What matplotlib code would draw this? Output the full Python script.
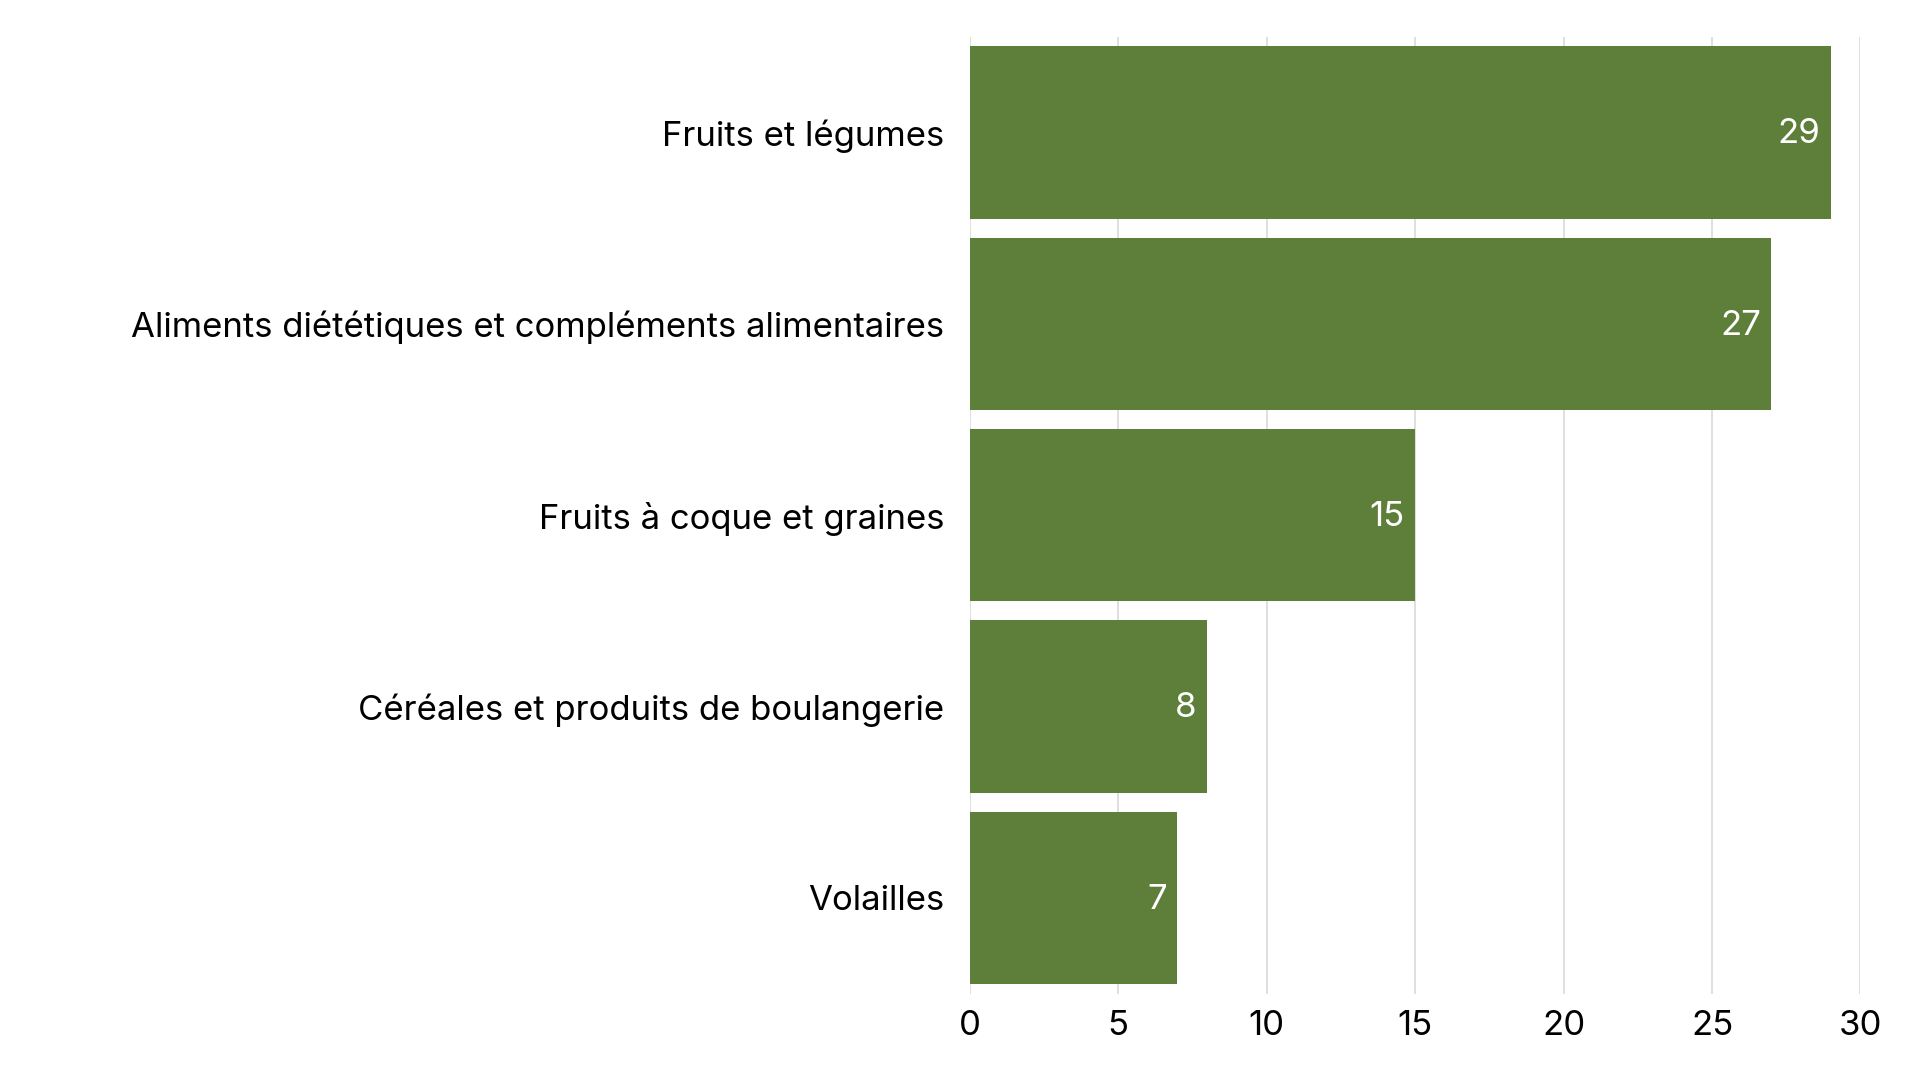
import matplotlib
matplotlib.use("Agg")
import matplotlib.pyplot as plt
from matplotlib.patches import FancyBboxPatch

categories = ["Fruits et légumes", "Aliments diététiques et compléments alimentaires",
              "Fruits à coque et graines", "Céréales et produits de boulangerie", "Volailles"]
values = [29, 27, 15, 8, 7]
xticks = [0, 5, 10, 15, 20, 25, 30]

plt.rcParams['font.family'] = ['Inter', 'DejaVu Sans']
fig = plt.figure(figsize=(19.2, 10.8), dpi=100)
ax = fig.add_axes([0.505, 0.080, 0.464, 0.886])
color = "#5d7f3a"
ys = list(range(len(categories)))[::-1]
ax.set_xlim(0, 30)
ax.set_ylim(-0.5, len(categories) - 0.5)
for y, v in zip(ys, values):
    ax.barh(y, v, height=0.9, color=color, zorder=3)
    ax.text(v - 0.35, y - 0.01, str(v), ha='right', va='center', color='white', fontsize=25, zorder=4)
ax.set_yticks(ys)
ax.set_yticklabels(categories, fontsize=25)
ax.set_xticks(xticks)
ax.set_xticklabels([str(t) for t in xticks], fontsize=25)
ax.tick_params(length=0, pad=18)
ax.tick_params(axis='x', pad=12)
ax.grid(axis='x', color='#d9d9d9', linewidth=1.2, zorder=0)
for s in ax.spines.values():
    s.set_visible(False)
fig.savefig("out.png", dpi=100)
